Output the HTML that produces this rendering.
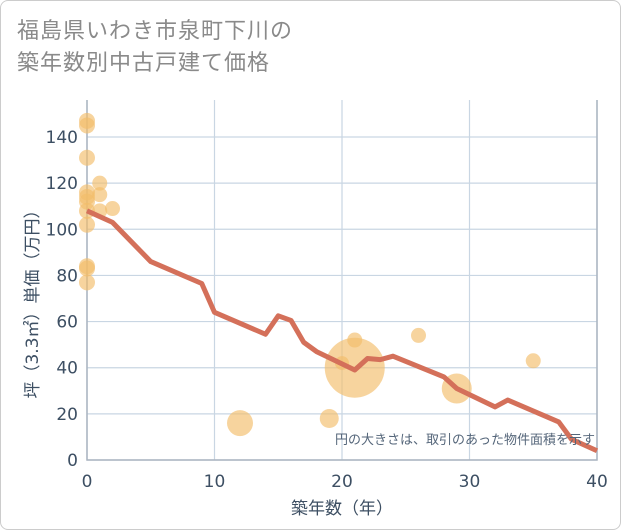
<!DOCTYPE html>
<html><head><meta charset="utf-8"><style>
body{margin:0;background:#fff;}
.wrap{position:relative;width:619px;height:528px;border:1px solid #ccc;border-radius:8px;overflow:hidden;background:#fff;}
.title{position:absolute;left:16px;top:14px;font:22px/32px "Liberation Sans","Noto Sans CJK JP",sans-serif;color:#8a8a8a;letter-spacing:1px;}
svg text{font-family:"DejaVu Sans","Noto Sans CJK JP",sans-serif;}
</style></head><body>
<div class="wrap">
<div class="title">福島県いわき市泉町下川の<br>築年数別中古戸建て価格</div>
<svg id="c" width="621" height="530" style="position:absolute;left:-1px;top:-1px"></svg>
</div>
<script>
const xTicks=[0,10,20,30,40];
const yTicks=[0,20,40,60,80,100,120,140];
const lineYears=[0,2,5,9,10,14,15,16,17,18,21,22,23,24,28,29,32,33,37,38,40];
const lineValues=[108,103,86,76.5,64,54.5,62.5,60.5,51,47,39,44,43.5,45,36,31,23,26,16.5,9,4];
const bubbleYears=[0,0,0,0,0,0,0,0,0,0,0,1,1,1,2,12,19,21,21,20,26,29,35];
const bubbleValues=[147,145,131,116,114,112,108,102,84,83,77,120,115,108,109,16,18,40,52,42,54,31,43];
const bubbleSizes=[8,8,8,8,8,8,8,8,8,8,8,7.5,7.5,7.5,7.5,13,9.5,30,7.5,7,7.5,15,7.5];
const X0=87,X1=597,Y0=460,Y1=137;
const xs=v=>X0+(v-0)/40*(X1-X0);
const ys=v=>Y0-v/140*(Y0-Y1);
const svg=document.getElementById('c');const NS='http://www.w3.org/2000/svg';
function mk(t,a,p){const e=document.createElementNS(NS,t);for(const k in a)e.setAttribute(k,a[k]);(p||svg).appendChild(e);return e;}
yTicks.forEach(t=>{const l=mk('line',{x1:X0,x2:X1,y1:ys(t),y2:ys(t),stroke:'#c9d6e3','stroke-width':1.2});


const tx=mk('text',{x:X0-9,y:ys(t)+6,'text-anchor':'end','font-size':17,fill:'#3d4f63'});tx.textContent=t;

});
xTicks.forEach(t=>{const l=mk('line',{x1:xs(t),x2:xs(t),y1:100,y2:Y0,stroke:'#c9d6e3','stroke-width':1.2});


const tx=mk('text',{x:xs(t),y:487,'text-anchor':'middle','font-size':17,fill:'#3d4f63'});tx.textContent=t;

});
const ax=mk('path',{d:`M${X0} 100V${Y0}H${X1}V100`,fill:'none',stroke:'#aab4bf','stroke-width':1.5});


bubbleYears.forEach((y,i)=>{const c=mk('circle',{cx:xs(y),cy:ys(bubbleValues[i]),r:bubbleSizes[i],fill:'#f3bd6a','fill-opacity':0.65});

});
const p=mk('polyline',{points:lineYears.map((y,i)=>xs(y)+','+ys(lineValues[i])).join(' '),fill:'none',stroke:'#d4705a','stroke-width':5,'stroke-linejoin':'round'});


const n=mk('text',{x:595,y:444,'text-anchor':'end','font-size':13,fill:'#55667a'});n.textContent='円の大きさは、取引のあった物件面積を示す';


const xt=mk('text',{x:342,y:514,'text-anchor':'middle','font-size':17,fill:'#3d4f63'});xt.textContent='築年数（年）';


const yt=mk('text',{x:0,y:0,'text-anchor':'middle','font-size':17,fill:'#3d4f63',transform:'translate(38,300) rotate(-90)'});yt.textContent='坪（3.3㎡）単価（万円）';


</script>
</body></html>
